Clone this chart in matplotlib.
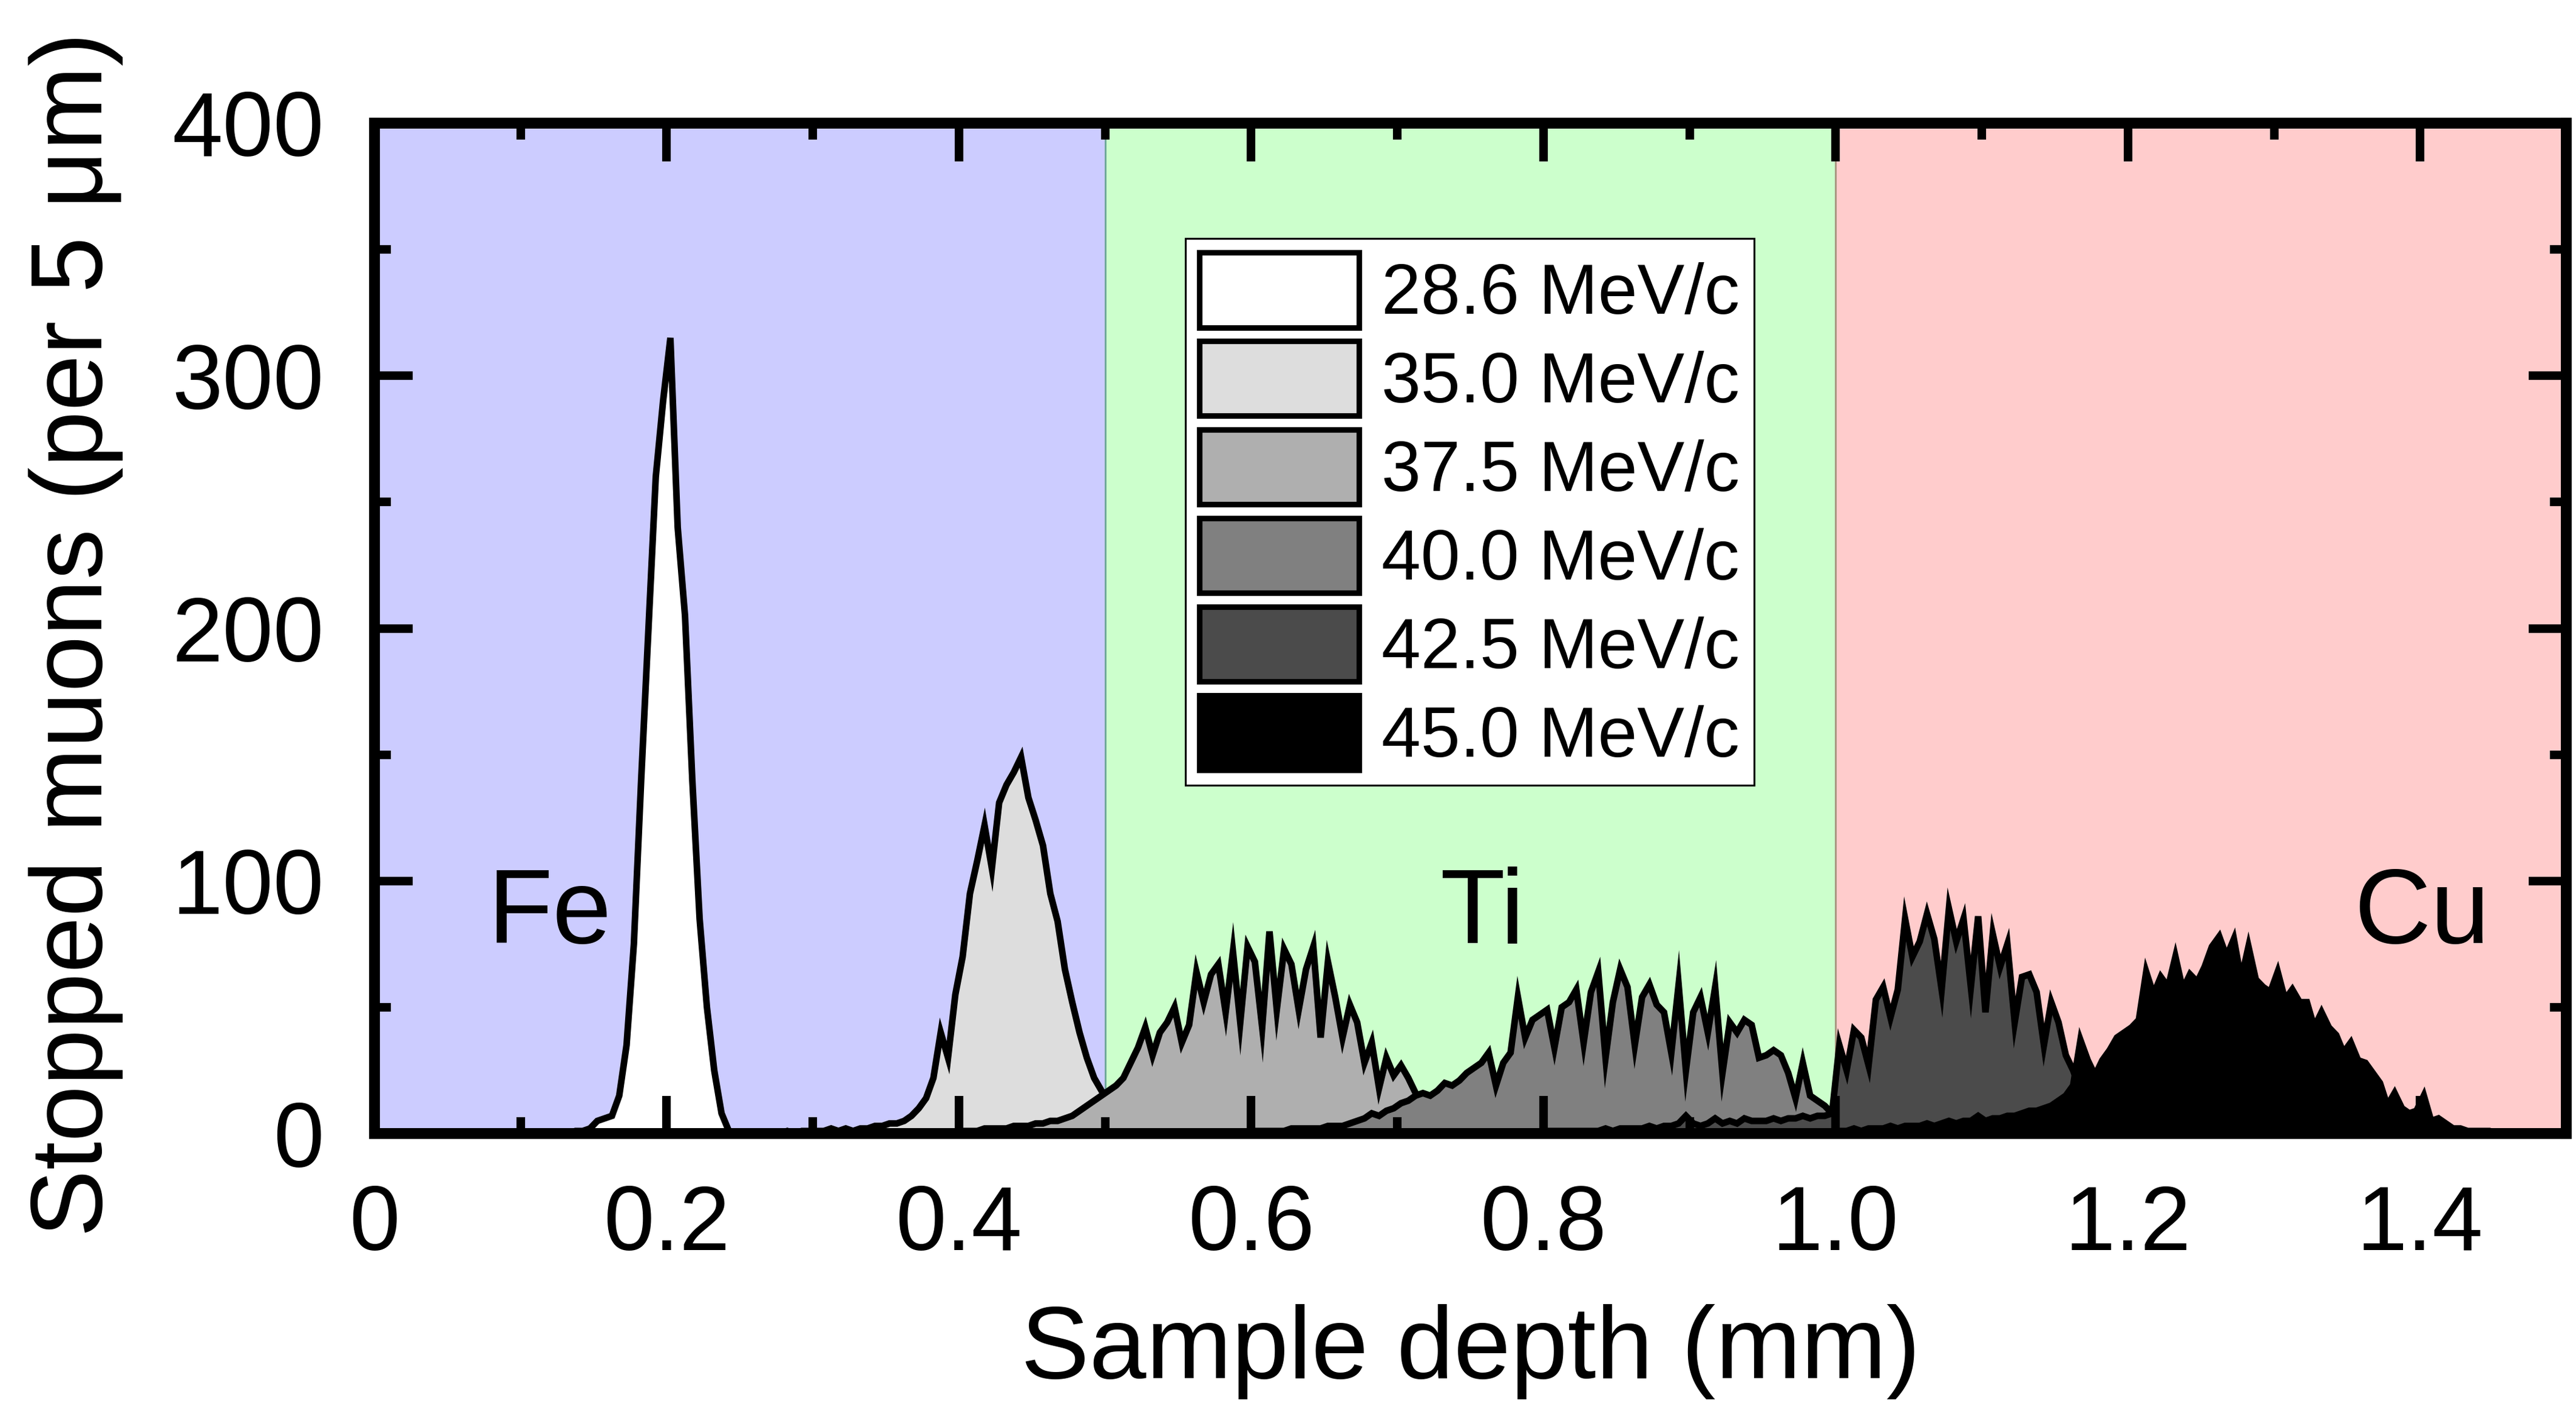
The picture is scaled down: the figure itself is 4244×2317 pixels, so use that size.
import numpy as np
import matplotlib
matplotlib.use("Agg")
import matplotlib.pyplot as plt
from matplotlib.patches import Patch
from matplotlib.ticker import MultipleLocator, FuncFormatter

plt.rcParams["font.family"] = ["Liberation Sans", "DejaVu Sans"]

# ---------------------------------------------------------------------------
# Stopping-depth distributions, 5 um bins from 0 to 1.5 mm
# ---------------------------------------------------------------------------
bin_width_mm = 0.005
n_bins = 300

momenta = ["28.6 MeV/c", "35.0 MeV/c", "37.5 MeV/c",
           "40.0 MeV/c", "42.5 MeV/c", "45.0 MeV/c"]
fill_colors = ["#FFFFFF", "#DDDDDD", "#AFAFAF", "#808080", "#4B4B4B", "#000000"]

# index of the first listed bin for each momentum
start_bins = [27, 56, 80, 120, 160, 200]

counts_28_6 = [1, 1, 2, 5, 6, 7, 15, 35, 75, 140, 200, 260, 290, 315, 240,
               205, 140, 85, 50, 25, 8, 1]

counts_35_0 = [1, 0, 1, 1, 1, 1, 2, 1, 2, 1, 2, 2, 3, 3, 4, 4, 5, 7, 10, 14,
               22, 40, 30, 55, 70, 95, 108, 122, 105, 131, 138, 143, 149, 133,
               124, 114, 95, 84, 65, 52, 40, 30, 22, 17, 13, 10, 8, 6, 5, 4,
               3, 2, 2, 1, 1]

counts_37_5 = [1, 1, 1, 2, 2, 2, 2, 3, 3, 3, 4, 4, 5, 5, 6, 7, 9, 11, 13, 15,
               17, 19, 22, 28, 34, 42, 31, 40, 44, 50, 36, 43, 64, 52, 63, 67,
               48, 72, 44, 74, 68, 42, 80, 49, 73, 67, 49, 65, 74, 38, 68, 54,
               38, 51, 44, 28, 36, 18, 30, 23, 27, 22, 16, 12, 10, 8, 6, 5, 4,
               3, 3, 2, 2, 1, 1, 1]

counts_40_0 = [1, 1, 1, 1, 1, 2, 2, 2, 2, 2, 3, 3, 3, 4, 5, 6, 8, 7, 9, 10,
               12, 13, 15, 16, 15, 17, 20, 19, 21, 24, 26, 28, 32, 19, 28, 32,
               54, 38, 45, 47, 49, 34, 50, 52, 57, 36, 56, 64, 30, 52, 65, 58,
               35, 54, 59, 51, 48, 32, 59, 25, 48, 54, 40, 58, 24, 44, 40, 45,
               43, 30, 31, 33, 31, 24, 14, 28, 15, 13, 11, 8, 7, 5, 4, 3, 2, 2,
               1, 1]

counts_42_5 = [1, 1, 1, 1, 1, 1, 1, 1, 2, 1, 2, 2, 2, 2, 3, 2, 3, 3, 4, 7,
               4, 3, 4, 6, 4, 5, 4, 6, 5, 5, 5, 6, 5, 6, 6, 7, 6, 7, 7, 8,
               35, 25, 41, 38, 27, 53, 58, 46, 57, 85, 70, 76, 87, 77, 57, 89,
               76, 85, 58, 86, 48, 79, 66, 75, 44, 62, 63, 56, 35, 52, 44, 31,
               25, 17, 14, 11, 9, 7, 5, 4, 3, 2, 2, 1, 1]

counts_45_0 = [1, 1, 2, 1, 2, 2, 2, 3, 2, 3, 3, 3, 4, 3, 4, 5, 4, 5, 5, 7,
               5, 6, 6, 7, 7, 8, 9, 9, 10, 11, 13, 15, 19, 37, 29, 23, 29, 33,
               38, 40, 42, 45, 64, 55, 62, 58, 70, 57, 63, 60, 66, 74, 78, 70,
               77, 61, 74, 61, 58, 56, 64, 53, 57, 52, 52, 42, 48, 42, 39, 32,
               36, 29, 28, 24, 20, 11, 16, 10, 8, 9, 15, 5, 6, 4, 2, 2, 1, 1,
               1, 1]

all_counts = [counts_28_6, counts_35_0, counts_37_5,
              counts_40_0, counts_42_5, counts_45_0]

# material layers of the sample (depth ranges in mm)
layer_names = ["Fe", "Ti", "Cu"]
layer_bounds = [(0.0, 0.5), (0.5, 1.0), (1.0, 1.5)]
layer_colors = ["#CCCCFF", "#CCFFCC", "#FFCCCC"]
layer_label_x = [0.120, 0.758, 1.401]
layer_label_y = 75.5

x_ticks = [0, 0.2, 0.4, 0.6, 0.8, 1.0, 1.2, 1.4]
y_ticks = [0, 100, 200, 300, 400]


def full_histogram(start, counts):
    h = np.zeros(n_bins)
    h[start:start + len(counts)] = counts
    return h


bin_centers = (np.arange(n_bins) + 0.5) * bin_width_mm

# ---------------------------------------------------------------------------
W, H, DPI = 4244, 2317, 300
fig = plt.figure(figsize=(W / DPI, H / DPI), dpi=DPI)
fig.patch.set_facecolor("white")
ax = fig.add_axes([617 / W, 1 - 1868 / H, (4228 - 617) / W, (1868 - 203) / H])

# material layers as coloured bands
for (lo, hi), col in zip(layer_bounds, layer_colors):
    ax.axvspan(lo, hi, facecolor=col, edgecolor="none", zorder=0)
ax.axvline(0.5, color="#6FA89A", lw=0.7, zorder=0.5)
ax.axvline(1.0, color="#A8957F", lw=0.7, zorder=0.5)

# filled distributions, higher momenta drawn on top
for k, (start, counts, col) in enumerate(zip(start_bins, all_counts, fill_colors)):
    h = full_histogram(start, counts)
    ax.fill_between(bin_centers, h, 0, facecolor=col, edgecolor="none",
                    zorder=1 + 0.1 * k)
    ax.plot(bin_centers, h, color="black", lw=2.6, solid_joinstyle="miter",
            zorder=1.05 + 0.1 * k)

for name, lx in zip(layer_names, layer_label_x):
    ax.text(lx, layer_label_y, name, fontsize=42, ha="center", va="baseline",
            zorder=4)

ax.set_xlim(0, 1.5)
ax.set_ylim(0, 400)
ax.set_xticks(x_ticks)
ax.set_yticks(y_ticks)
ax.xaxis.set_minor_locator(MultipleLocator(0.1))
ax.yaxis.set_minor_locator(MultipleLocator(50))
ax.xaxis.set_major_formatter(FuncFormatter(lambda v, p: "0" if abs(v) < 1e-9 else f"{v:.1f}"))
ax.set_axisbelow(False)

ax.tick_params(which="both", direction="in", top=True, right=True,
               width=3.4, labelsize=36, pad=20)
ax.tick_params(which="major", length=15)
ax.tick_params(which="minor", length=6.5)
for sp in ax.spines.values():
    sp.set_linewidth(4.3)
    sp.set_zorder(6)

ax.set_xlabel("Sample depth (mm)", fontsize=40.5)
ax.set_ylabel("Stopped muons (per 5 \u03bcm)", fontsize=40)
ax.xaxis.set_label_coords(0.5, -0.169)
ax.yaxis.set_label_coords(-0.1147, 0.494)

handles = [Patch(facecolor=c, edgecolor="black", linewidth=2.2) for c in fill_colors]
leg = ax.legend(handles, momenta, loc="upper left", bbox_to_anchor=(0.370, 0.886),
                fontsize=28, frameon=True, fancybox=False, framealpha=1,
                edgecolor="black", handlelength=2.25, handleheight=1.25,
                labelspacing=0.18, handletextpad=0.32, borderpad=0.2,
                borderaxespad=0.0)
leg.get_frame().set_linewidth(0.75)
leg.set_zorder(7)

fig.savefig("out.png", dpi=DPI)
